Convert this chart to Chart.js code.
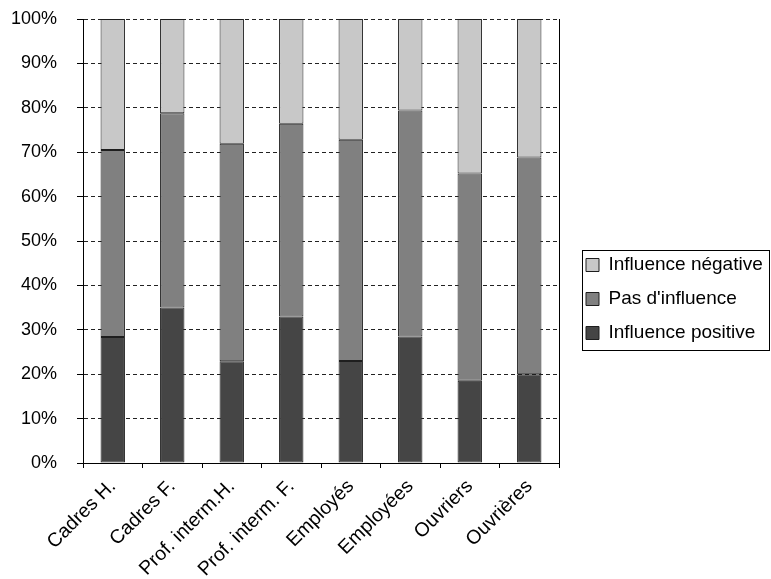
<!DOCTYPE html>
<html lang="fr">
<head>
<meta charset="utf-8">
<title>Influence par catégorie socioprofessionnelle</title>
<script src="https://cdn.jsdelivr.net/npm/chart.js@4/dist/chart.umd.min.js"></script>
<style>
  html, body { margin: 0; padding: 0; background: #ffffff; }
  #wrap { width: 771px; height: 579px; }
</style>
</head>
<body>
<div id="wrap"><canvas id="chart" width="771" height="579"></canvas></div>
<script>
// Catégories (axe horizontal)
const categories = [
  'Cadres H.', 'Cadres F.', 'Prof. interm.H.', 'Prof. interm. F.',
  'Employés', 'Employées', 'Ouvriers', 'Ouvrières'
];

// Parts en % (chaque colonne totalise 100 %)
const influencePositive = [28.4, 35.0, 22.9, 33.0, 23.0, 28.5, 18.5, 20.0];
const pasInfluence      = [42.1, 43.8, 49.0, 43.4, 49.8, 50.9, 46.7, 48.8];
const influenceNegative = [29.5, 21.2, 28.1, 23.6, 27.2, 20.6, 34.8, 31.2];

// Graduations de l'axe vertical
const yTicks = [0, 10, 20, 30, 40, 50, 60, 70, 80, 90, 100];

const FONT = "Arial, 'Liberation Sans', sans-serif";

// Cadre autour de la légende
const legendFrame = {
  id: 'legendFrame',
  afterDraw(chart) {
    const boxes = chart.legend && chart.legend.legendHitBoxes;
    if (!boxes || !boxes.length) return;
    const left = Math.min(...boxes.map(b => b.left)) - 4;
    const right = Math.max(...boxes.map(b => b.left + b.width)) + 6;
    const top = Math.min(...boxes.map(b => b.top)) - 6;
    const bottom = Math.max(...boxes.map(b => b.top + b.height)) + 6.5;
    const ctx = chart.ctx;
    ctx.save();
    ctx.strokeStyle = '#000';
    ctx.lineWidth = 1;
    ctx.strokeRect(Math.round(left) + 0.5, Math.round(top) + 0.5,
                   Math.round(right - left), Math.round(bottom - top));
    ctx.restore();
  }
};

const barCommon = {
  borderColor: '#1e1e1e',
  borderWidth: 1,
  borderSkipped: false,
  categoryPercentage: 1.0,
  barPercentage: 0.41
};

new Chart(document.getElementById('chart'), {
  type: 'bar',
  data: {
    labels: categories,
    datasets: [
      Object.assign({ label: 'Influence positive', data: influencePositive, backgroundColor: '#454545' }, barCommon),
      Object.assign({ label: "Pas d'influence", data: pasInfluence, backgroundColor: '#808080' }, barCommon),
      Object.assign({ label: 'Influence négative', data: influenceNegative, backgroundColor: '#c8c8c8' }, barCommon)
    ]
  },
  options: {
    responsive: false,
    animation: false,
    devicePixelRatio: 1,
    layout: { padding: { top: 19, left: 0, bottom: 0, right: 8 } },
    plugins: {
      tooltip: { enabled: false },
      legend: {
        position: 'right',
        reverse: true,
        maxWidth: 192,
        labels: {
          boxWidth: 13,
          boxHeight: 13,
          padding: 15,
          color: '#000',
          font: { family: FONT, size: 19 }
        }
      }
    },
    scales: {
      x: {
        stacked: true,
        grid: {
          display: true,
          offset: true,
          drawOnChartArea: false,
          drawTicks: true,
          tickLength: 5,
          color: '#000'
        },
        border: { display: true, color: '#000', width: 1 },
        ticks: {
          autoSkip: false,
          minRotation: 45,
          maxRotation: 45,
          padding: 7,
          color: '#000',
          font: { family: FONT, size: 19.5 }
        },
        afterFit(scale) {
          scale.height = 116;
          scale.paddingLeft = 0;
          scale.paddingRight = 0;
        }
      },
      y: {
        stacked: true,
        min: 0,
        max: 100,
        afterBuildTicks(scale) { scale.ticks = yTicks.map(v => ({ value: v })); },
        grid: {
          color: '#222',
          lineWidth: 1,
          drawTicks: true,
          tickLength: 6,
          tickColor: '#000',
          tickBorderDash: []
        },
        border: { display: true, color: '#000', width: 1, dash: [4, 3] },
        ticks: {
          padding: 20,
          color: '#000',
          font: { family: FONT, size: 18 },
          callback: v => v + '%'
        },
        afterFit(scale) {
          scale.width = 83;
          scale.paddingTop = 0;
          scale.paddingBottom = 0;
        }
      },
      // axe fantôme : trait droit du cadre et espace avant la légende
      yRight: {
        position: 'right',
        display: true,
        min: 0,
        max: 100,
        grid: { display: false, drawTicks: false },
        border: { display: true, color: '#000', width: 1 },
        ticks: { display: false },
        afterFit(scale) {
          scale.width = 12;
          scale.paddingTop = 0;
          scale.paddingBottom = 0;
        }
      }
    }
  },
  plugins: [legendFrame]
});
</script>
</body>
</html>
